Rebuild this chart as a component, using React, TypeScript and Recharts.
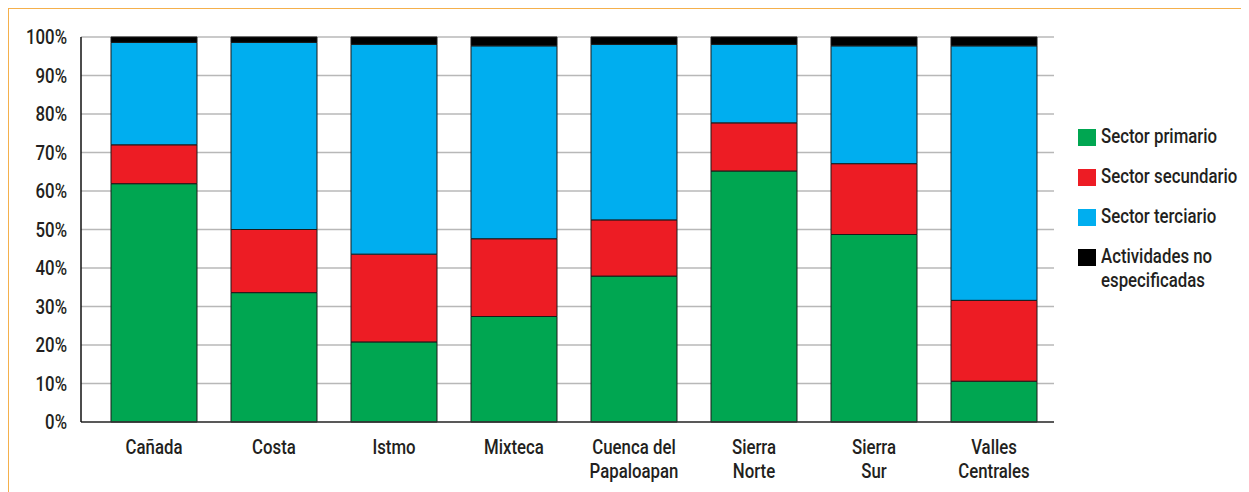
import React from "react";
import { BarChart, Bar, XAxis, YAxis, CartesianGrid } from "recharts";

const categories = [
  "Cañada",
  "Costa",
  "Istmo",
  "Mixteca",
  "Cuenca del\nPapaloapan",
  "Sierra\nNorte",
  "Sierra\nSur",
  "Valles\nCentrales",
];
const primario = [61.9, 33.6, 20.8, 27.4, 37.9, 65.2, 48.7, 10.6];
const secundario = [10.1, 16.4, 22.8, 20.2, 14.6, 12.5, 18.4, 21.0];
const terciario = [26.6, 48.6, 54.5, 50.1, 45.6, 20.4, 30.6, 66.1];
const noEspecificadas = [1.4, 1.4, 1.9, 2.3, 1.9, 1.9, 2.3, 2.3];
const yTicks = [0, 10, 20, 30, 40, 50, 60, 70, 80, 90, 100];

const seriesKeys = ["primario", "secundario", "terciario", "otras"];
const seriesNames = ["Sector primario", "Sector secundario", "Sector terciario", "Actividades no\nespecificadas"];
const seriesColors = ["#00a651", "#ed1c24", "#00aeef", "#000000"];

const data = categories.map((name, i) => ({
  name,
  primario: primario[i],
  secundario: secundario[i],
  terciario: terciario[i],
  otras: noEspecificadas[i],
}));

// no condensed face installed, so the text is squeezed horizontally
const FONT = 'Roboto, "Liberation Sans", Arial, sans-serif';
const SIZE = 21;
const WEIGHT = 500;
const SQUEEZE = 0.8;
const TEXT = "#231f20";

function CategoryTick({ x, y, payload }: any) {
  const lines = String(payload.value).split("\n");
  return (
    <g transform={`translate(${x},${y}) scale(${SQUEEZE},1)`}>
      <text x={0} y={0} textAnchor="middle" fontFamily={FONT} fontSize={SIZE} fontWeight={WEIGHT} fill={TEXT}>
        {lines.map((l, i) => (
          <tspan key={i} x={0} dy={24}>
            {l}
          </tspan>
        ))}
      </text>
    </g>
  );
}

function PercentTick({ x, y, payload }: any) {
  return (
    <g transform={`translate(${x},${y}) scale(${SQUEEZE},1)`}>
      <text x={0} y={0} dy={7} textAnchor="end" fontFamily={FONT} fontSize={SIZE} fontWeight={WEIGHT} fill={TEXT}>
        {`${payload.value}%`}
      </text>
    </g>
  );
}

function LegendBox() {
  return (
    <div
      style={{
        position: "absolute",
        left: 1069,
        top: 119,
        fontFamily: FONT,
        fontSize: SIZE,
        fontWeight: WEIGHT,
        color: TEXT,
      }}
    >
      {seriesKeys.map((k, i) => (
        <div key={k} style={{ display: "flex", alignItems: "flex-start", height: 40 }}>
          <span
            style={{
              width: 18,
              height: 17,
              background: seriesColors[i],
              marginRight: 5,
              marginTop: 1,
              flex: "none",
            }}
          />
          <span
            style={{
              lineHeight: "24px",
              marginTop: -4,
              whiteSpace: "pre",
              display: "inline-block",
              transform: `scaleX(${SQUEEZE})`,
              transformOrigin: "left top",
            }}
          >
            {seriesNames[i]}
          </span>
        </div>
      ))}
    </div>
  );
}

export default function App() {
  return (
    <div
      style={{
        borderTop: "1px solid #f5b04c",
        borderLeft: "1px solid #f5b04c",
        width: 1241,
        height: 484,
        position: "relative",
      }}
    >
      <BarChart
        width={1240}
        height={482}
        data={data}
        margin={{ top: 28, right: 195, bottom: 9, left: 0 }}
        barCategoryGap={17}
      >
        <CartesianGrid vertical={false} stroke="#b8b8b8" strokeWidth={1.3} />
        <XAxis
          dataKey="name"
          interval={0}
          height={60}
          padding={{ left: 13, right: 0 }}
          axisLine={{ stroke: "#333", strokeWidth: 1.5 }}
          tickLine={false}
          tick={<CategoryTick />}
        />
        <YAxis
          domain={[0, 100]}
          ticks={yTicks}
          interval={0}
          width={72}
          axisLine={{ stroke: "#111", strokeWidth: 1.5 }}
          tickLine={false}
          tickMargin={8}
          tick={<PercentTick />}
        />
        {seriesKeys.map((k, i) => (
          <Bar
            key={k}
            dataKey={k}
            name={seriesNames[i]}
            stackId="a"
            fill={seriesColors[i]}
            stroke="#1a1a1a"
            strokeWidth={1}
            isAnimationActive={false}
          />
        ))}
      </BarChart>
      <LegendBox />
    </div>
  );
}
